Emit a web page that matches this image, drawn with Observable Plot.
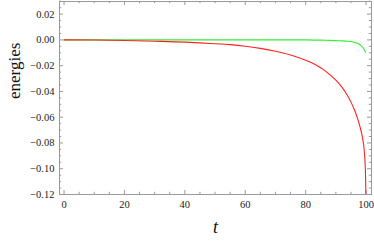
<!DOCTYPE html>
<html>
<head>
<meta charset="utf-8">
<script src="https://cdn.jsdelivr.net/npm/d3@7"></script>
<script src="https://cdn.jsdelivr.net/npm/@observablehq/plot@0.6"></script>
<style>
  html, body { margin: 0; padding: 0; background: #fff; }
  #chart { width: 374px; height: 242px; }
</style>
</head>
<body>
<div id="chart"></div>
<script>
// Series
const redT = [0, 10, 20, 30, 40, 45, 50, 55, 60, 65, 70, 75, 80, 82, 84, 86, 88, 90, 92, 93.5, 95, 96, 97, 98, 98.5, 99, 99.3, 99.5, 99.7, 99.8, 99.9, 100];
const redE = [0, -0.0001, -0.0005, -0.001, -0.0017, -0.0023, -0.003, -0.0037, -0.0049, -0.0066, -0.0088, -0.0117, -0.0158, -0.0178, -0.0203, -0.0233, -0.027, -0.0313, -0.0367, -0.0418, -0.0483, -0.0535, -0.0598, -0.0675, -0.0722, -0.0785, -0.0835, -0.089, -0.0965, -0.103, -0.114, -0.13];
const greenT = [0, 20, 40, 60, 80, 85, 88, 91, 94, 95, 96, 97, 98, 98.5, 99, 99.4, 99.8];
const greenE = [0, 0, 0, 0, 0, -0.0002, -0.0004, -0.0007, -0.001, -0.0013, -0.0018, -0.0025, -0.0038, -0.0048, -0.0061, -0.0076, -0.0097];

const xTicks = [0, 20, 40, 60, 80, 100];
const yTicks = [-0.12, -0.10, -0.08, -0.06, -0.04, -0.02, 0.00, 0.02];
const xMinor = d3.range(0, 101, 5).filter(v => !xTicks.includes(v));
const yMinor = d3.range(-120, 31, 5).map(v => v / 1000).filter(v => !yTicks.some(t => Math.abs(t - v) < 1e-9));

const xDomain = [-1.5, 101.8];
const yDomain = [-0.12, 0.0298];

const red = redT.map((t, i) => ({t, e: redE[i]}));
const green = greenT.map((t, i) => ({t, e: greenE[i]}));

const W = 374, H = 242;
const mL = 59, mR = 3, mT = 1, mB = 48;
const pxX = (xDomain[1] - xDomain[0]) / (W - mL - mR);
const pxY = (yDomain[1] - yDomain[0]) / (H - mT - mB);
const majorLen = 4, minorLen = 2.2;
const frameColor = "#9a9a9a";
const fmt = v => (v < 0 ? "\u2212" : "") + Math.abs(v).toFixed(2);

const tickRulesY = (vals, len) => [
  Plot.ruleY(vals, {x1: xDomain[0], x2: xDomain[0] + len * pxX, stroke: frameColor, strokeWidth: 1}),
  Plot.ruleY(vals, {x1: xDomain[1] - len * pxX, x2: xDomain[1], stroke: frameColor, strokeWidth: 1})
];
const tickRulesX = (vals, len) => [
  Plot.ruleX(vals, {y1: yDomain[0], y2: yDomain[0] + len * pxY, stroke: frameColor, strokeWidth: 1}),
  Plot.ruleX(vals, {y1: yDomain[1] - len * pxY, y2: yDomain[1], stroke: frameColor, strokeWidth: 1})
];

const chart = Plot.plot({
  width: W,
  height: H,
  marginLeft: mL,
  marginRight: mR,
  marginTop: mT,
  marginBottom: mB,
  style: {fontFamily: "'Liberation Serif', 'DejaVu Serif', serif", fontSize: "10.5px", color: "#222", background: "#fff"},
  x: {domain: xDomain, label: null},
  y: {domain: yDomain, label: null},
  marks: [
    ...tickRulesY(yTicks, majorLen),
    ...tickRulesY(yMinor, minorLen),
    ...tickRulesX(xTicks, majorLen),
    ...tickRulesX(xMinor, minorLen),
    Plot.axisY(yTicks, {anchor: "left", tickSize: 0, tickPadding: 5, tickFormat: fmt, fontSize: 10.5, fill: "#222"}),
    Plot.axisX(xTicks, {anchor: "bottom", tickSize: 0, tickPadding: 6, tickFormat: d => String(d), fontSize: 10.5, fill: "#222"}),
    Plot.line(green, {x: "t", y: "e", stroke: "#33ee33", strokeWidth: 1.1, curve: "monotone-x", clip: true}),
    Plot.line(red, {x: "t", y: "e", stroke: "#ff2222", strokeWidth: 1.1, curve: "monotone-x", clip: true}),
    Plot.frame({stroke: frameColor, strokeWidth: 1}),
    Plot.text(["energies"], {frameAnchor: "left", dx: -45, dy: 1, rotate: -90, fontSize: 17, fill: "#111", fontFamily: "'Liberation Serif', serif"}),
    Plot.text(["t"], {frameAnchor: "bottom", dy: 38, fontSize: 18, fontStyle: "italic", fill: "#111", fontFamily: "'Liberation Serif', serif"})
  ]
});
document.getElementById("chart").appendChild(chart);
</script>
</body>
</html>
